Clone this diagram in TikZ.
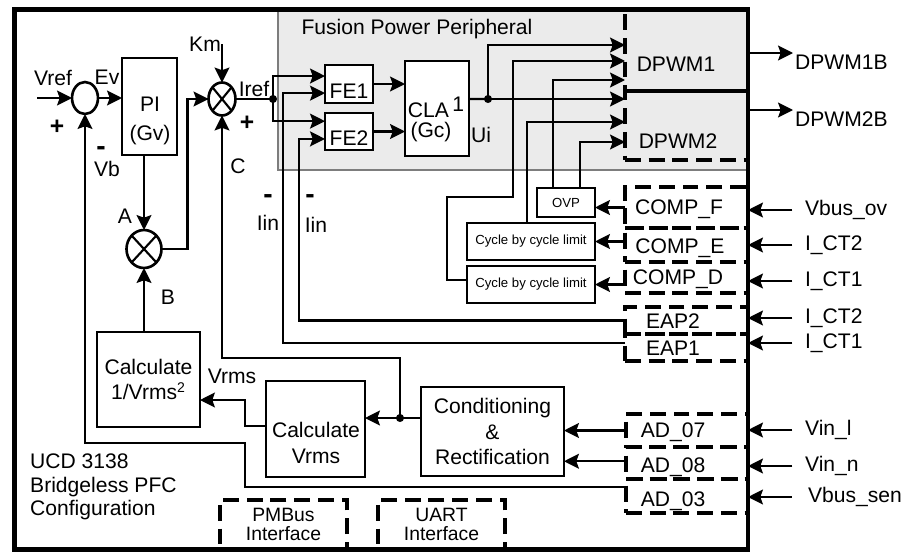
\documentclass[tikz,border=0pt]{standalone}
\usepackage{fontspec}
\setmainfont{Liberation Sans}
\usepackage{tikz}
\usetikzlibrary{arrows.meta,shapes.geometric,calc}
\definecolor{fpgray}{RGB}{235,235,235}
\definecolor{fpedge}{RGB}{125,125,125}

\tikzset{
  sz/.style 2 args={minimum width=#1*0.2mm, minimum height=#2*0.2mm},
  blk/.style={draw, line width=1.5pt, inner sep=0pt, outer sep=0pt, fill=white},
  dblk/.style={draw, line width=2pt, dash pattern=on 9pt off 4.5pt, inner sep=0pt, outer sep=0pt},
  junc/.style={draw, ellipse, line width=1.5pt, inner sep=0pt, outer sep=0pt, fill=white},
  ln/.style={line width=1.2pt},
  thinln/.style={line width=0.75pt},
  lbl/.style={inner sep=1pt},
  sml/.style={font=\fontsize{7.5}{9}\selectfont},
  pls/.style={font=\fontsize{14}{14}\selectfont\bfseries, inner sep=0pt},
  mns/.style={font=\fontsize{16}{16}\selectfont\bfseries, inner sep=0pt},
}

\begin{document}
\begin{tikzpicture}[x=0.2mm, y=-0.2mm,
    >={Stealth[length=8.5pt,width=8.5pt,inset=1.5pt]},
    every node/.append style={font=\fontsize{12}{14.4}\selectfont}]
  \useasboundingbox (0,0) rectangle (902,552);

  % --- Fusion Power Peripheral (grey area) ---------------------------
  \draw[fpedge, line width=0.8pt, fill=fpgray] (278,9.5) rectangle (748,170);
  \node (tfpp) at (417,29) {Fusion Power Peripheral};

  % --- voltage loop ----------------------------------------------------
  \node[junc, sz={26}{32}] (sumV) at (85,98) {};
  \coordinate (vrefin) at (37,98);
  \node (tvref) at (53,78) {Vref};
  \node (tev) at (107,77) {Ev};
  \node[pls] (tplus1) at (57,127) {+};
  \node[mns] (tminus1) at (101,151) {-};
  \node[lbl] (tvb) at (107,169) {Vb};
  \node[blk, sz={55}{97}] (pi) at (149.5,106.5) {};
  \node (tpi) at (150,104) {PI};
  \node (tgv) at (150,135) {(Gv)};
  \draw[ln,->] (vrefin) -- (sumV.west);
  \draw[ln,->] (sumV.east) -- (sumV.east -| pi.west);

  % --- multipliers -----------------------------------------------------
  \node[junc, sz={35}{38}] (mulAB) at (144,249) {};
  \draw[ln] (mulAB.north west) -- (mulAB.south east) (mulAB.north east) -- (mulAB.south west);
  \node (ta) at (125,216) {A};
  \node (tb) at (168,297) {B};
  \node[junc, sz={27}{33}] (mulK) at (222,99) {};
  \draw[ln] (mulK.north west) -- (mulK.south east) (mulK.north east) -- (mulK.south west);
  \node (tkm) at (205,44) {Km};
  \node (tiref) at (254,89) {Iref};
  \node[pls] (tplus2) at (247,123) {+};
  \node (tc) at (238,166) {C};
  \draw[ln,->] (mulAB.north |- pi.south) -- (mulAB.north);
  \draw[ln,->] (mulAB.east) -- ++(26,0) |- (mulK.west);
  \draw[ln,->] (tkm.east -| mulK.north) -- (mulK.north);

  % --- current loop: FE1/FE2 and CLA ----------------------------------
  \node[blk, sz={48}{38}] (fe1) at (349,84) {};
  \node (tfe1) at (349,91) {FE1};
  \node[blk, sz={48}{37}] (fe2) at (349,131.5) {};
  \node (tfe2) at (349,138) {FE2};
  \node[blk, sz={64}{95}] (cla) at (437,108.5) {};
  \node (tcla) at (436,107) {CLA\,\raisebox{3.5pt}{1}};
  \node (tgc) at (431,132) {(Gc)};
  \node (tui) at (481,135) {Ui};
  \coordinate (fe1a) at ($(fe1.north west)!0.29!(fe1.south west)$);
  \coordinate (fe1b) at ($(fe1.north west)!0.74!(fe1.south west)$);
  \coordinate (fe2a) at ($(fe2.north west)!0.22!(fe2.south west)$);
  \coordinate (fe2b) at ($(fe2.north west)!0.70!(fe2.south west)$);
  \coordinate (iref) at (273,99);
  \draw[ln] (mulK.east) -- (iref);
  \fill (iref) circle (2.3pt);
  \draw[ln,->] (iref) |- (fe1a);
  \draw[ln,->] (iref) |- (fe2a);
  \draw[ln,->] (fe1.east) -- (fe1.east -| cla.west);
  \draw[ln,->] (fe2.east) -- (fe2.east -| cla.west);

  % --- DPWM blocks ---------------------------------------------------
  \node[dblk, sz={123}{81.5}] (dpwm1) at (686.5,50.25) {};
  \node (tdpwm1) at (676,64) {DPWM1};
  \node[dblk, sz={123}{69}] (dpwm2) at (686.5,125.5) {};
  \node (tdpwm2) at (678,141) {DPWM2};
  \coordinate (claout) at ($(cla.north east)!0.4!(cla.south east)$);
  \coordinate (ui) at (488,99);
  \draw[ln] (claout) -- (ui);
  \fill (ui) circle (2.3pt);
  \draw[ln,->] (ui) |- (dpwm1.west |- 0,45);
  \draw[ln,->] (ui) -- (dpwm2.west |- ui);

  % --- protection: OVP and cycle by cycle limits --------------------
  \node[blk, sz={58}{29}, sml] (ovp) at (566,202.5) {OVP};
  \node[blk, sz={128}{37}, sml] (cyc1) at (531,241.5) {Cycle by cycle limit};
  \node[blk, sz={128}{37}, sml] (cyc2) at (531,284.5) {Cycle by cycle limit};
  \draw[ln,->] ([yshift=2.5pt]cyc2.west) -- ++(-20,0) |- (513,197) |- (dpwm1.west |- 0,61);
  \draw[ln,->] ($(ovp.north west)!0.28!(ovp.north east)$) |- (dpwm1.west |- 0,80);
  \draw[ln,->] ($(cyc1.north west)!0.47!(cyc1.north east)$) |- (dpwm2.west |- 0,122);
  \draw[ln,->] ($(ovp.north west)!0.74!(ovp.north east)$) |- (dpwm2.west |- 0,142);

  % --- comparators and EAPs ------------------------------------------
  \node[dblk, sz={123}{41}] (compF) at (686.5,207.5) {};
  \node (tcompF) at (679,209) {COMP\_F};
  \node[dblk, sz={123}{34}] (compE) at (686.5,245) {};
  \node (tcompE) at (680,248) {COMP\_E};
  \node[dblk, sz={123}{31}] (compD) at (686.5,277.5) {};
  \node (tcompD) at (678,279) {COMP\_D};
  \node[dblk, sz={123}{27}] (eap2) at (686.5,320.5) {};
  \node (teap2) at (673,321) {EAP2};
  \node[dblk, sz={123}{27}] (eap1) at (686.5,347.5) {};
  \node (teap1) at (673,348) {EAP1};
  \draw[ln,->] (compF.west) -- (compF.west -| ovp.east);
  \draw[ln,->] (compE.west |- cyc1.east) -- (cyc1.east);
  \draw[ln,->] (compD.west |- cyc2.east) -- (cyc2.east);
  \draw[ln,->] ([yshift=2.6pt]eap1.west) -| ($(fe1b)+(-42,0)$) -- (fe1b);
  \draw[ln,->] (eap2.west) -| ($(fe2b)+(-26,0)$) -- (fe2b);
  \node (tiin1) at (268,223) {Iin};
  \node[mns] (tminus2) at (268,199) {-};
  \node (tiin2) at (316,225) {Iin};
  \node[mns] (tminus3) at (310,199) {-};

  % --- Vrms path -----------------------------------------------------
  \node[blk, sz={143}{89}, align=center] (cond) at (492.5,431.5) {Conditioning\\\&\\Rectification};
  \node[blk, sz={99}{96}] (calcV) at (315.5,429) {};
  \node[align=center] (tcalcV) at (316,443) {Calculate\\Vrms};
  \node[blk, sz={103}{95}, align=center] (calcR) at (148.5,379.5) {Calculate\\1/Vrms\textsuperscript{2}};
  \node (tvrms) at (232,376) {Vrms};
  \coordinate (vj) at (400,418);
  \draw[ln,->] (cond.west |- vj) -- (calcV.east |- vj);
  \fill (vj) circle (2.3pt);
  \draw[ln,->] (vj) |- (mulK.south |- 0,358) -- (mulK.south);
  \draw[thinln,->] (calcV.west |- 0,426) -- ++(-21,0) |- (calcR.east |- 0,400);
  \draw[ln,->] (mulAB.south |- calcR.north) -- (mulAB.south);

  % --- ADC inputs ----------------------------------------------------
  \node[dblk, sz={122}{33}] (ad07) at (687,430.5) {};
  \node (tad07) at (673,432) {AD\_07};
  \node[dblk, sz={122}{32}] (ad08) at (687,463) {};
  \node (tad08) at (673,467) {AD\_08};
  \node[dblk, sz={122}{34}] (ad03) at (687,496) {};
  \node (tad03) at (673,501) {AD\_03};
  \draw[ln,->] (ad07.west) -- (ad07.west -| cond.east);
  \draw[ln,->] ([yshift=1pt]ad08.west) -- ([yshift=1pt]ad08.west -| cond.east);
  \draw[ln,->] ([yshift=5pt]ad03.west) -| (245,443) -| (sumV.south);

  % --- interfaces and title -----------------------------------------
  \node[dblk, sz={127}{49.5}, align=center, font=\fontsize{11}{11}\selectfont] (pmb) at (283.5,524.75) {PMBus\\Interface};
  \node[dblk, sz={127}{49.5}, align=center, font=\fontsize{11}{11}\selectfont] (uart) at (441.5,524.75) {UART\\Interface};
  \node[align=left, anchor=west, font=\fontsize{12}{13.5}\selectfont] (tucd) at (24,487) {UCD 3138\\Bridgeless PFC\\Configuration};

  % --- outer frame ---------------------------------------------------
  \draw[line width=2.8pt] (14.5,9.5) rectangle (748,549.5);

  % --- pins ----------------------------------------------------------
  \node[lbl, anchor=west] (o1) at (793,62) {DPWM1B};
  \node[lbl, anchor=west] (o2) at (793,119) {DPWM2B};
  \draw[ln,->] (dpwm1.east |- 0,53) -- (o1.west |- 0,53);
  \draw[ln,->] (dpwm2.east |- 0,110) -- (o2.west |- 0,110);
  \node[lbl, anchor=west] (i1) at (803,210) {Vbus\_ov};
  \node[lbl, anchor=west] (i2) at (803,245) {I\_CT2};
  \node[lbl, anchor=west] (i3) at (803,281) {I\_CT1};
  \node[lbl, anchor=west] (i4) at (803,318) {I\_CT2};
  \node[lbl, anchor=west] (i5) at (803,343) {I\_CT1};
  \node[lbl, anchor=west] (i6) at (803,430) {Vin\_l};
  \node[lbl, anchor=west] (i7) at (803,466) {Vin\_n};
  \node[lbl, anchor=west] (i8) at (806,497) {Vbus\_sen};
  \draw[ln,->] ([xshift=-6pt]i1.west) -- (compF.east |- i1.west);
  \draw[ln,->] ([xshift=-6pt]i2.west) -- (compE.east |- i2.west);
  \draw[ln,->] ([xshift=-6pt]i3.west) -- (compD.east |- i3.west);
  \draw[ln,->] ([xshift=-6pt]i4.west) -- (eap2.east |- i4.west);
  \draw[ln,->] ([xshift=-6pt]i5.west) -- (eap1.east |- i5.west);
  \draw[ln,->] ([xshift=-6pt]i6.west) -- (ad07.east |- i6.west);
  \draw[ln,->] ([xshift=-6pt]i7.west) -- (ad08.east |- i7.west);
  \draw[ln,->] ([xshift=-8pt]i8.west) -- (ad03.east |- i8.west);
\end{tikzpicture}
\end{document}
